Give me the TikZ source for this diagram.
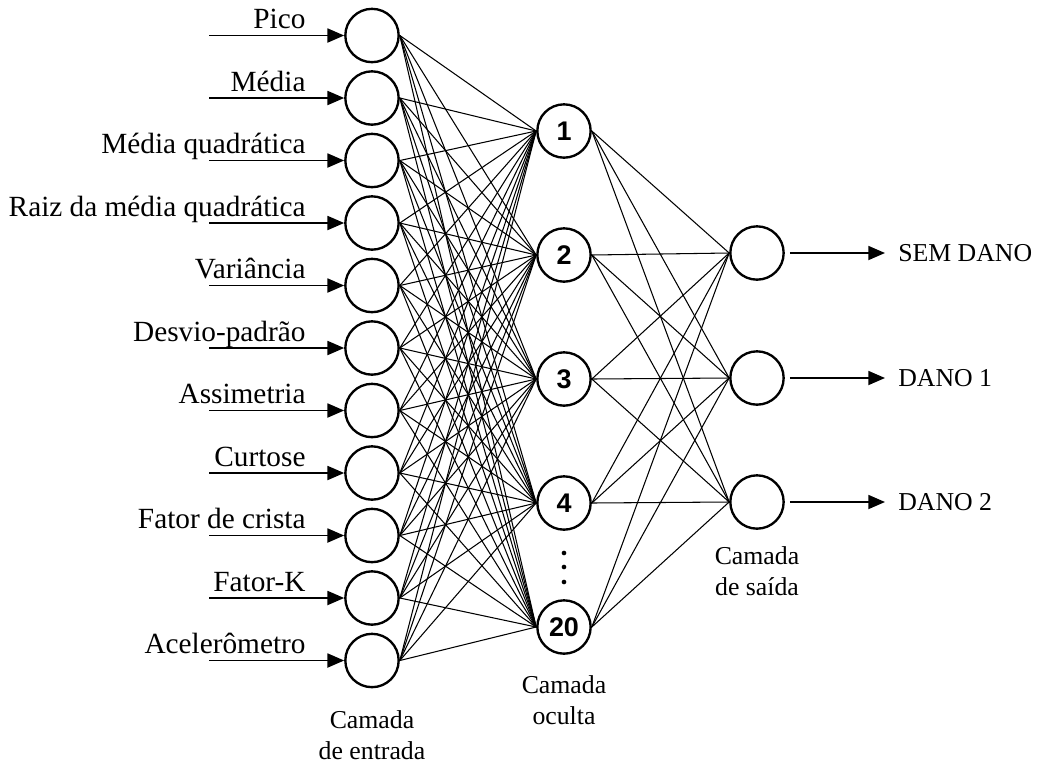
\documentclass[tikz,border=0pt]{standalone}
\usepackage{fontspec}
\setmainfont{Liberation Serif}
\newfontfamily\numfont{Liberation Sans}
\usetikzlibrary{arrows.meta}

\begin{document}
\begin{tikzpicture}[x=0.015cm, y=-0.015cm,
  neuron/.style={draw, circle, line width=1pt, minimum size=0.8cm, inner sep=0pt},
  link/.style={line width=0.45pt},
  feed/.style={-{Triangle[length=0.25cm, width=0.21cm]}, line width=0.75pt},
  inlabel/.style={anchor=base east, inner sep=0pt, font=\fontsize{12.5}{15}\selectfont},
  outlabel/.style={anchor=west, font=\fontsize{11}{13.5}\selectfont},
  caption/.style={align=center, font=\fontsize{11}{13.5}\selectfont}]
\useasboundingbox (0,0) rectangle (1040,762);

% Input layer with feature arrows
\foreach \lbl [count=\i] in {Pico, Média, Média quadrática, Raiz da média quadrática, Variância, Desvio-padrão, Assimetria, Curtose, Fator de crista, Fator-K, Acelerômetro} {
  \pgfmathsetmacro\yy{35.5+62.5*(\i-1)}
  \node[neuron] (in\i) at (372,\yy) {};
  \coordinate (src\i) at (209,\yy);
  \draw[feed] (src\i) -- (in\i);
  \node[inlabel] (lbl\i) at (306,\yy-7) {\lbl};
}

% Hidden layer
\foreach \num/\yy [count=\j] in {1/131, 2/255, 3/379, 4/503, 20/627} {
  \node[neuron, font=\numfont\bfseries\fontsize{11.5}{13}\selectfont] (hid\j) at (564,\yy) {\num};
}
\foreach \dy in {553,567,582}
  \fill (564,\dy) circle (0.035cm);

% Output layer
\foreach \lbl/\yy [count=\k] in {SEM DANO/253, DANO 1/378, DANO 2/502} {
  \node[neuron] (out\k) at (757,\yy) {};
  \node[outlabel] (res\k) at (890,\yy) {\lbl};
  \draw[feed, shorten <=0.075cm, shorten >=0.075cm] (out\k) -- (res\k);
}

% Connections
\foreach \i in {1,...,11}
  \foreach \j in {1,...,5}
    \draw[link] (in\i.east) -- (hid\j.west);
\foreach \j in {1,...,5}
  \foreach \k in {1,2,3}
    \draw[link] (hid\j.east) -- (out\k.west);

% Layer captions
\node[caption] (capin) at (372,735) {Camada\\de entrada};
\node[caption] (caphid) at (564,700) {Camada\\oculta};
\node[caption] (capout) at (757,571) {Camada\\de saída};
\end{tikzpicture}
\end{document}
